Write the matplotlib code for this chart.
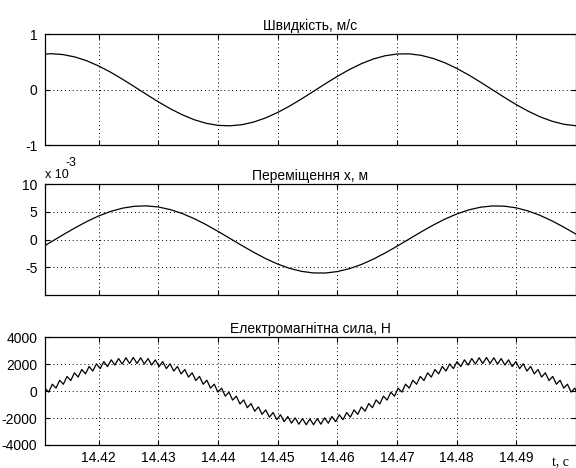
import numpy as np
import matplotlib
matplotlib.use("Agg")
import matplotlib.pyplot as plt

# ---------------- data ----------------
vd_t_start = 14.410
vd_t_step = 0.002
velocity = [0.635, 0.650, 0.635, 0.592, 0.523, 0.429, 0.317, 0.190, 0.055, -0.083,
            -0.217, -0.341, -0.450, -0.539, -0.603, -0.641, -0.649, -0.629, -0.580, -0.506,
            -0.408, -0.293, -0.164, -0.028, 0.110, 0.242, 0.364, 0.469, 0.554, 0.613,
            0.645, 0.648, 0.622, 0.567, 0.488, 0.386, 0.268, 0.137, 0.000, -0.137,
            -0.268, -0.386, -0.488, -0.567, -0.622, -0.648]
displacement_e3 = [-1.72, -0.45, 0.84, 2.09, 3.25, 4.27, 5.09, 5.68, 6.02, 6.09,
                   5.89, 5.42, 4.71, 3.78, 2.69, 1.47, 0.19, -1.09, -2.33, -3.47,
                   -4.45, -5.23, -5.77, -6.06, -6.07, -5.81, -5.29, -4.54, -3.57, -2.45,
                   -1.22, 0.06, 1.35, 2.57, 3.68, 4.62, 5.36, 5.85, 6.08, 6.04,
                   5.73, 5.16, 4.36, 3.36, 2.21, 0.97]

f_t_start = 14.41038
f_t_step = 0.00061667
force = [-369, 220, -71, 518, 225, 810, 513, 1093, 788, 1360, 1047, 1608, 1283, 1832,
         1494, 2029, 1676, 2195, 1825, 2326, 1939, 2422, 2016, 2480, 2055, 2500, 2055,
         2480, 2016, 2422, 1939, 2326, 1825, 2195, 1676, 2029, 1494, 1832, 1283, 1608,
         1047, 1360, 788, 1093, 513, 810, 225, 518, -71, 220, -369, -78, -665, -370,
         -953, -653, -1228, -920, -1487, -1168, -1723, -1392, -1934, -1589, -2116, -1755,
         -2265, -1886, -2379, -1982, -2456, -2040, -2495, -2060, -2495, -2040, -2456,
         -1982, -2379, -1886, -2265, -1755, -2116, -1589, -1934, -1392, -1723, -1168,
         -1487, -920, -1228, -653, -953, -370, -665, -78, -369, 220, -71, 518, 225, 810,
         513, 1093, 788, 1360, 1047, 1608, 1283, 1832, 1494, 2029, 1676, 2195, 1825, 2326,
         1939, 2422, 2016, 2480, 2055, 2500, 2055, 2480, 2016, 2422, 1939, 2326, 1825,
         2195, 1676, 2029, 1494, 1832, 1283, 1608, 1047, 1360, 788, 1093, 513, 810, 225,
         518, -71, 220, -369]

x_ticks = [14.42, 14.43, 14.44, 14.45, 14.46, 14.47, 14.48, 14.49]
x_tick_labels = ["14.42", "14.43", "14.44", "14.45", "14.46", "14.47", "14.48", "14.49"]
titles = ["Швидкість, м/с", "Переміщення х, м", "Електромагнітна сила, Н"]
v_ticks = [-1, 0, 1]
d_ticks = [-5, 0, 5, 10]
f_ticks = [-4000, -2000, 0, 2000, 4000]

# ---------------- figure ----------------
plt.rcParams['font.family'] = ['Liberation Sans', 'DejaVu Sans']
plt.rcParams['font.size'] = 10
plt.rcParams['axes.unicode_minus'] = False

W, H = 576, 468
fig = plt.figure(figsize=(W / 100, H / 100), dpi=100)

def ax_at(top, bottom):
    return fig.add_axes([45 / W, (H - bottom) / H, (W - 45) / W, (bottom - top) / H])

ax1 = ax_at(34.3, 145.3)
ax2 = ax_at(184.3, 294.7)
ax3 = ax_at(337.3, 445.0)

t_vd = vd_t_start + vd_t_step * np.arange(len(velocity))
t_f = f_t_start + f_t_step * np.arange(len(force))

ax1.plot(t_vd, velocity, color='black', lw=0.9)
ax2.plot(t_vd, displacement_e3, color='black', lw=0.9)
ax3.plot(t_f, force, color='black', lw=0.9)

ax1.set_ylim(-1, 1)
ax1.set_yticks(v_ticks)
ax2.set_ylim(-10, 10)
ax2.set_yticks(d_ticks)
ax3.set_ylim(-4000, 4000)
ax3.set_yticks(f_ticks)

for i, ax in enumerate((ax1, ax2, ax3)):
    ax.set_xlim(14.411, 14.5)
    ax.set_xticks(x_ticks)
    if i < 2:
        ax.set_xticklabels([])
    else:
        ax.set_xticklabels(x_tick_labels)
    ax.grid(True, color='black', linestyle=(0, (1, 3)), linewidth=0.7)
    ax.tick_params(direction='in', length=3.5, width=0.8, top=True, right=True,
                   colors='black', labelsize=10, pad=5.5)
    ax.tick_params(axis='x', pad=4)
    for s in ax.spines.values():
        s.set_linewidth(0.9)
        s.set_color('black')
    ax.set_title(titles[i], fontsize=10, pad=3)

fig.text(45 / W, 1 - 175 / H, "x 10", fontsize=9, ha='left', va='center')
fig.text(66 / W, 1 - 163 / H, "-3", fontsize=9, ha='left', va='center')
fig.text(560 / W, 1 - 463 / H, "t, c", fontsize=10, ha='center', va='center',
         family=['Liberation Serif', 'DejaVu Serif'])

fig.savefig("out.png", dpi=100)
